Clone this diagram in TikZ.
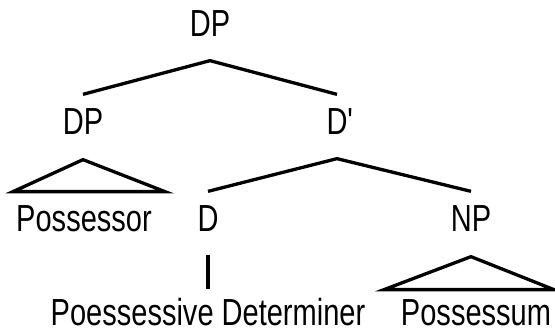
\documentclass[tikz,border=0pt]{standalone}
\usepackage{fontspec}
\newfontfamily\treefont{Liberation Sans}[FakeStretch=0.77]
\begin{document}
\begin{tikzpicture}[x=1pt, y=-1pt, line width=3.3pt,
  lbl/.style={font=\treefont\fontsize{37.7}{40}\selectfont, inner sep=0pt, anchor=base, text height=27pt, text depth=0pt}]
\useasboundingbox (0,0) rectangle (555,334);

\node[lbl] (dp) at (210,37) {DP};
\node[lbl] (spec) at (83,135) {DP};
\node[lbl] (dbar) at (337,135) {D\rlap{'}};
\node[lbl] (poss) at (84,232) {Possessor};
\node[lbl] (d) at (208,232) {D};
\node[lbl] (np) at (471,232) {NP};
\node[lbl] (det) at (208,325) {Poessessive Determiner};
\node[lbl] (sum) at (476,325) {Possessum};

\foreach \p/\a/\b in {dp/spec/dbar, dbar/d/np} {\draw ([yshift=12pt]\a.north) -- ([yshift=-22pt]\p.south) -- ([yshift=12pt]\b.north);}
\foreach \p/\l/\r/\h in {spec/70/82/55, np/87/83/56} {\draw ([yshift=-23pt]\p.south) -- ([xshift=-\l pt,yshift=-\h pt]\p.south) -- ([xshift=\r pt,yshift=-\h pt]\p.south) -- cycle;}
\draw ([yshift=-21pt]d.south) -- ([yshift=7pt]d.south |- det.north);

\end{tikzpicture}
\end{document}
